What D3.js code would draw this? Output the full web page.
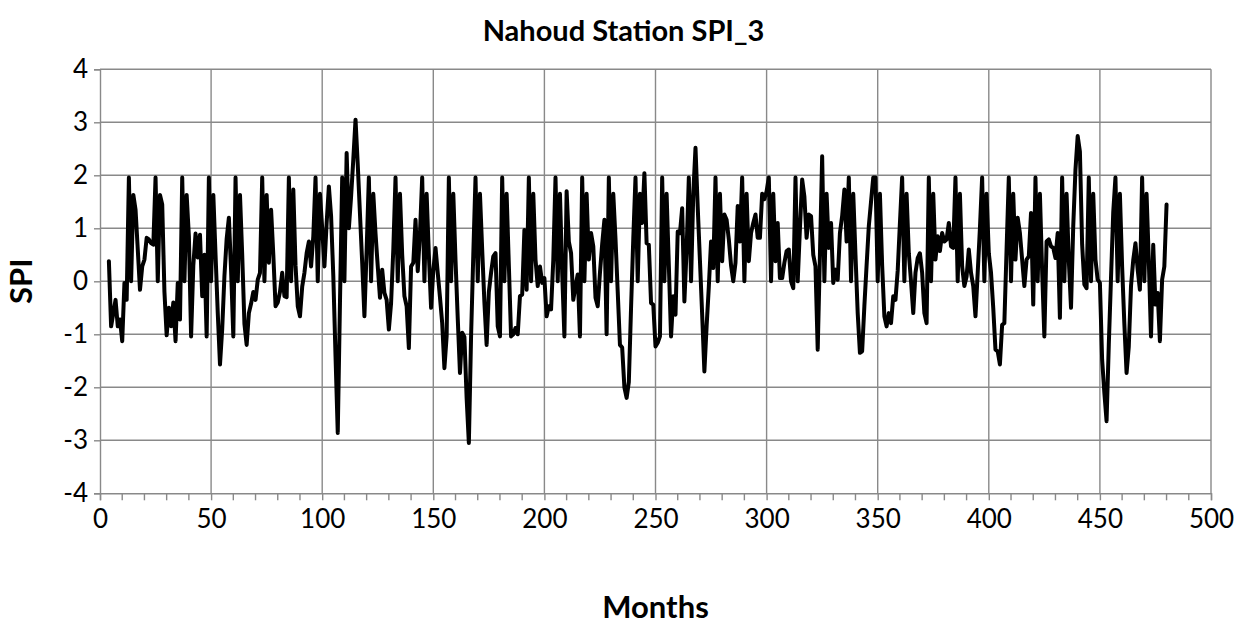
<!DOCTYPE html>
<html>
<head>
<meta charset="utf-8">
<script src="https://cdn.jsdelivr.net/npm/d3@7"></script>
<style>
  html, body { margin: 0; padding: 0; background: #ffffff; }
  svg { display: block; font-family: Lato, "Open Sans", sans-serif; }
</style>
</head>
<body>
<svg id="chart" width="1247" height="629"></svg>
<script>
// Chart text
const chartTitle = "Nahoud Station SPI_3";
const xTitle = "Months";
const yTitle = "SPI";

// Monthly SPI-3 values, first value belongs to month 4 (one row per 12 months)
const firstMonth = 4;
const spi = [
  0.38, -0.85, -0.6, -0.35, -0.85, -0.72, -1.13, -0.03, -0.35, 1.96,
  0, 1.63, 1.35, 0.6, -0.16, 0.28, 0.41, 0.82, 0.79, 0.72, 0.69, 1.96,
  0, 1.63, 1.45, -0.2, -1.02, -0.5, -0.85, -0.4, -1.13, -0.03, -0.72, 1.96,
  0, 1.63, 0.85, -1.04, 0.3, 0.9, 0.45, 0.88, -0.28, 0.5, -1.04, 1.96,
  0, 1.63, 0.5, -0.6, -1.57, -0.9, 0.1, 0.8, 1.2, 0.2, -1.04, 1.96,
  0, 1.63, 0.5, -0.8, -1.2, -0.6, -0.42, -0.2, -0.35, 0.03, 0.16, 1.96,
  0, 1.63, 0.35, 1.35, 0.5, -0.47, -0.4, -0.2, 0.16, -0.28, -0.3, 1.96,
  0, 1.73, 0.3, -0.47, -0.66, -0.1, 0.16, 0.53, 0.75, 0.28, 0.85, 1.96,
  0, 1.65, 1.0, 0.28, 1.1, 1.79, 1.23, 0.1, -1.42, -2.86, -0.4, 1.96,
  0, 2.42, 1.0, 1.6, 2.3, 3.05, 2.2, 1.27, 0.35, -0.66, 0.6, 1.96,
  0, 1.65, 0.9, 0.28, -0.31, 0.22, -0.22, -0.35, -0.91, -0.41, 0.6, 1.96,
  0, 1.65, 0.5, -0.28, -0.47, -1.26, 0.28, 0.35, 1.16, 0.19, 0.9, 1.96,
  0, 1.65, 0.5, -0.5, 0.2, 0.63, 0.16, -0.3, -0.79, -1.64, -1.04, 1.96,
  0, 1.65, 0.4, -0.7, -1.73, -0.97, -1.05, -2.2, -3.05, -1.04, 0.5, 1.96,
  0, 1.65, 0.6, -0.4, -1.2, -0.2, 0.16, 0.47, 0.53, -0.85, -1.04, 1.96,
  0, 1.65, 0.3, -1.04, -1.0, -0.88, -1.0, -0.28, -0.25, 0.97, -0.16, 1.96,
  0, 1.65, 0.41, -0.09, 0.28, -0.03, 0.06, -0.66, -0.47, -0.53, 0.4, 1.96,
  0, 1.65, 0.16, -1.04, 1.7, 0.75, 0.53, -0.35, -0.09, 0.13, -1.04, 1.96,
  0, 1.65, 0.41, 0.91, 0.66, -0.31, -0.47, 0.16, 0.7, 1.16, -1.0, 1.96,
  0, 1.65, 0.8, -0.2, -1.2, -1.25, -2.0, -2.2, -1.9, -0.5, 0.8, 1.96,
  0, 1.65, 1.1, 2.04, 0.72, 0.69, -0.41, -0.44, -1.23, -1.16, -1.04, 1.96,
  0, 1.65, 0.3, -1.04, -0.28, -0.63, 0.94, 0.91, 1.38, -0.38, 0.6, 1.96,
  0, 1.65, 2.52, 1.4, 0.39, -0.63, -1.7, -0.85, -0.1, 0.75, 0.25, 1.96,
  0, 1.65, 0.38, 1.26, 1.16, 0.79, 0.3, 0, 0.35, 1.42, 0.75, 1.96,
  0, 1.65, 0.38, 0.91, 1.1, 1.26, 0.82, 0.82, 1.65, 1.55, 1.7, 1.96,
  0, 1.65, 0.38, 1.1, 0.06, 0.06, 0.35, 0.57, 0.6, 0, -0.13, 1.96,
  0, 1.0, 1.92, 1.6, 0.82, 1.26, 1.23, 0.5, 0.28, -1.29, 0.5, 2.36,
  0, 1.65, 0.63, 1.1, -0.03, 0.22, 0.03, 0.91, 1.23, 1.73, 0.75, 1.96,
  0, 1.65, 0.5, -0.6, -1.35, -1.32, -0.47, 0.3, 1.04, 1.5, 1.96, 1.96,
  0, 1.65, 0.3, -0.66, -0.85, -0.6, -0.79, -0.28, -0.35, 0.2, 1.1, 1.96,
  0, 1.65, 0.53, 0, -0.6, 0.16, 0.44, 0.53, 0.16, -0.6, -0.79, 1.96,
  0, 1.65, 0.41, 0.85, 0.57, 0.91, 0.75, 0.79, 1.1, 0.66, 0.63, 1.96,
  0, 1.65, 0.28, -0.09, 0.09, 0.6, 0.16, -0.09, -0.66, 0.16, 1.0, 1.96,
  0, 1.65, 0.53, 0.16, -0.5, -1.29, -1.32, -1.57, -0.82, -0.79, 0.6, 1.96,
  0, 1.65, 0.41, 1.2, 0.91, 0.41, -0.09, 0.41, 0.47, 1.29, -0.44, 1.96,
  0, 1.65, 0.2, -1.04, 0.75, 0.79, 0.66, 0.63, 0.44, 0.91, -0.69, 1.96,
  0, 1.65, 0.4, -0.5, 1.04, 2.1, 2.74, 2.45, 0.7, -0.06, -0.13, 1.96,
  0, 1.65, 0.41, 0.03, -0.03, -1.48, -2.1, -2.64, -1.2, 0.06, 1.3, 1.96,
  0, 1.65, 0.28, -0.8, -1.73, -1.23, -0.09, 0.4, 0.72, 0.22, -0.16, 1.96,
  0, 1.65, 0.4, -1.04, 0.69, -0.44, -0.22, -1.13, 0.03, 0.28, 1.45
];

// Axis ticks
const xTicks = [0, 50, 100, 150, 200, 250, 300, 350, 400, 450, 500];
const xMinorTicks = [10, 20, 30, 40, 60, 70, 80, 90, 110, 120, 130, 140, 160, 170, 180, 190,
  210, 220, 230, 240, 260, 270, 280, 290, 310, 320, 330, 340, 360, 370, 380, 390,
  410, 420, 430, 440, 460, 470, 480, 490];
const yTicks = [-4, -3, -2, -1, 0, 1, 2, 3, 4];

const svg = d3.select("#chart");
const W = 1247, H = 629;
const plot = { left: 100, right: 1211, top: 69.3, bottom: 493.3 };
const gridColor = "#898989";
const tickFont = 26;
const axisTitleFont = 31;

const x = d3.scaleLinear().domain([0, 500]).range([plot.left, plot.right]);
const y = d3.scaleLinear().domain([-4, 4]).range([plot.bottom, plot.top]);

// Horizontal gridlines
svg.append("g").selectAll("line").data(yTicks.filter(v => v !== -4)).join("line")
  .attr("x1", plot.left).attr("x2", plot.right)
  .attr("y1", d => y(d)).attr("y2", d => y(d))
  .attr("stroke", gridColor).attr("stroke-width", 1.4);

// Vertical gridlines
svg.append("g").selectAll("line").data(xTicks.filter(v => v !== 0)).join("line")
  .attr("x1", d => x(d)).attr("x2", d => x(d))
  .attr("y1", plot.top).attr("y2", plot.bottom)
  .attr("stroke", gridColor).attr("stroke-width", 1.4);

// Bottom axis with major and minor ticks
const xAxis = d3.axisBottom(x).tickValues(xTicks).tickSize(7).tickPadding(9).tickFormat(d => String(d));
const gx = svg.append("g").attr("transform", `translate(0,${plot.bottom})`).call(xAxis);
gx.select(".domain").attr("stroke", gridColor).attr("stroke-width", 1.4);
gx.selectAll(".tick line").attr("stroke", gridColor).attr("stroke-width", 1.4);
gx.selectAll(".tick text").attr("font-size", tickFont).attr("fill", "#000").attr("font-family", "Lato, sans-serif");
gx.append("g").selectAll("line").data(xMinorTicks).join("line")
  .attr("x1", d => x(d)).attr("x2", d => x(d))
  .attr("y1", 0).attr("y2", 7)
  .attr("stroke", gridColor).attr("stroke-width", 1.4);

// Left axis (plain hyphen for negative labels)
const yAxis = d3.axisLeft(y).tickValues(yTicks).tickSize(6).tickPadding(6).tickFormat(d => String(d));
const gy = svg.append("g").attr("transform", `translate(${plot.left},0)`).call(yAxis);
gy.select(".domain").attr("stroke", gridColor).attr("stroke-width", 1.4);
gy.selectAll(".tick line").attr("stroke", gridColor).attr("stroke-width", 1.4);
gy.selectAll(".tick text").attr("font-size", tickFont).attr("fill", "#000").attr("font-family", "Lato, sans-serif");

// SPI series
const line = d3.line()
  .x((d, i) => x(firstMonth + i))
  .y(d => y(d));
svg.append("path")
  .datum(spi)
  .attr("d", line)
  .attr("fill", "none")
  .attr("stroke", "#000")
  .attr("stroke-width", 4)
  .attr("stroke-linejoin", "round")
  .attr("stroke-linecap", "round");

// Titles
svg.append("text")
  .attr("x", W / 2).attr("y", 41)
  .attr("text-anchor", "middle")
  .attr("font-size", 29).attr("font-weight", "bold")
  .text(chartTitle);

svg.append("text")
  .attr("x", (plot.left + plot.right) / 2).attr("y", 618)
  .attr("text-anchor", "middle")
  .attr("font-size", axisTitleFont).attr("font-weight", "bold")
  .text(xTitle);

svg.append("text")
  .attr("transform", `translate(32,${(plot.top + plot.bottom) / 2}) rotate(-90)`)
  .attr("text-anchor", "middle")
  .attr("font-size", axisTitleFont).attr("font-weight", "bold")
  .text(yTitle);
</script>
</body>
</html>
